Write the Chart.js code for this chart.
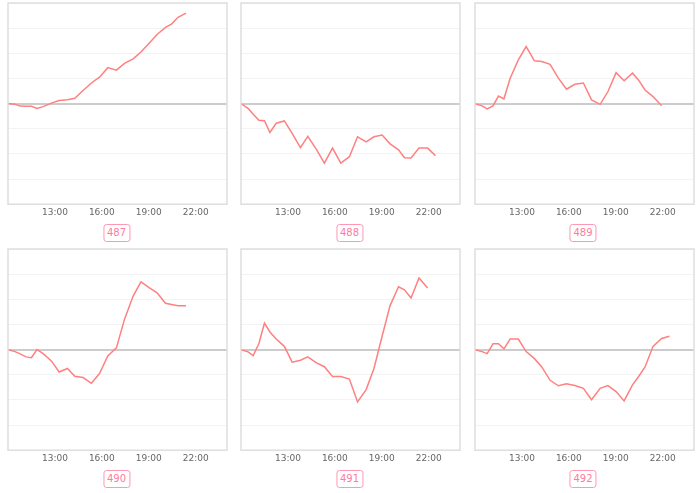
<!DOCTYPE html>
<html>
<head>
<meta charset="utf-8">
<script src="https://cdn.jsdelivr.net/npm/chart.js@4"></script>
<style>
  body { margin: 0; background: #fff; font-family: "DejaVu Sans", Verdana, sans-serif; }
  #grid { width: 700px; display: grid; grid-template-columns: 233px 233px 234px; grid-auto-rows: 246px; }
  .cell { position: relative; }
  .box { position: relative; height: 221px; }
  .tag {
    position: absolute; top: 224px; left: 50%; transform: translateX(-50%);
    border: 1px solid #ff99b3; border-radius: 3px; color: #ff7aa0;
    font-size: 10px; line-height: 16px; padding: 0 3px;
  }
</style>
</head>
<body>
<div id="grid"></div>
<script>
// sample times in hours (shared by all panels)
var times = [10.0, 10.45, 10.78, 11.15, 11.5, 11.85, 12.25, 12.77, 13.27, 13.8, 14.27, 14.8, 15.33, 15.85,
  16.38, 16.93, 17.45, 18.0, 18.5, 19.02, 19.53, 20.07, 20.45, 20.87, 21.38, 21.93, 22.43];
var tickHours = [13, 16, 19, 22];
var ids = ["487", "488", "489", "490", "491", "492"];

var s487 = [0, -0.03, -0.1, -0.11, -0.11, -0.19, -0.12, 0.02, 0.12, 0.15, 0.21, 0.52, 0.82, 1.05,
  1.43, 1.33, 1.6, 1.78, 2.05, 2.4, 2.75, 3.03, 3.16, 3.43, 3.6];
var s488 = [0, -0.19, -0.42, -0.66, -0.68, -1.15, -0.78, -0.69, -1.18, -1.75, -1.3, -1.8, -2.37, -1.77,
  -2.37, -2.11, -1.32, -1.52, -1.32, -1.25, -1.6, -1.84, -2.15, -2.16, -1.77, -1.77, -2.07];
var s489 = [0, -0.09, -0.21, -0.09, 0.3, 0.19, 1.01, 1.74, 2.27, 1.7, 1.67, 1.56, 1.01, 0.57,
  0.77, 0.82, 0.15, -0.03, 0.48, 1.23, 0.91, 1.21, 0.94, 0.54, 0.28, -0.09];
var s490 = [0, -0.08, -0.17, -0.29, -0.32, 0, -0.16, -0.45, -0.89, -0.75, -1.06, -1.11, -1.34, -0.95,
  -0.25, 0.07, 1.21, 2.13, 2.69, 2.46, 2.26, 1.84, 1.79, 1.74, 1.74];
var s491 = [0, -0.09, -0.24, 0.25, 1.05, 0.7, 0.42, 0.13, -0.5, -0.42, -0.29, -0.52, -0.68, -1.07,
  -1.07, -1.17, -2.08, -1.59, -0.75, 0.53, 1.75, 2.5, 2.38, 2.05, 2.85, 2.45];
var s492 = [0, -0.08, -0.16, 0.23, 0.23, 0.03, 0.42, 0.42, -0.08, -0.36, -0.69, -1.22, -1.44, -1.36,
  -1.43, -1.54, -1.99, -1.54, -1.43, -1.67, -2.04, -1.4, -1.08, -0.69, 0.13, 0.44, 0.53];
var allSeries = [s487, s488, s489, s490, s491, s492];

// frame around the plot area
var frame = {
  id: "frame",
  afterDraw: function (chart) {
    var a = chart.chartArea, c = chart.ctx;
    c.save();
    c.strokeStyle = "#dedede";
    c.lineWidth = 1.5;
    c.strokeRect(a.left, a.top, a.right - a.left, a.bottom - a.top);
    c.restore();
  }
};

var grid = document.getElementById("grid");
ids.forEach(function (id, k) {
  var cell = document.createElement("div");
  cell.className = "cell";
  cell.innerHTML = '<div class="box"><canvas></canvas></div><div class="tag">' + id + '</div>';
  grid.appendChild(cell);
  var vals = allSeries[k];
  var pts = vals.map(function (v, i) { return { x: times[i], y: v }; });
  var padL = k % 3 === 2 ? 9 : 8;

  new Chart(cell.querySelector("canvas"), {
    type: "line",
    data: {
      datasets: [{
        data: pts,
        borderColor: "#ff8080",
        borderWidth: 1.5,
        pointRadius: 0,
        tension: 0,
        fill: false
      }]
    },
    options: {
      responsive: true,
      maintainAspectRatio: false,
      animation: false,
      layout: { padding: { top: 3, left: padL, right: 6, bottom: 0 } },
      plugins: { legend: { display: false }, tooltip: { enabled: false } },
      scales: {
        x: {
          type: "linear",
          min: 10,
          max: 24,
          afterBuildTicks: function (axis) {
            axis.ticks = tickHours.map(function (h) { return { value: h }; });
          },
          grid: { display: false, drawTicks: false },
          border: { display: false },
          ticks: {
            color: "#666",
            font: { family: "DejaVu Sans", size: 9 },
            padding: 3,
            maxRotation: 0,
            callback: function (v) { return v + ":00"; }
          }
        },
        y: {
          min: -4,
          max: 4,
          ticks: { display: false, stepSize: 1 },
          border: { display: false },
          grid: {
            drawTicks: false,
            color: function (c) { return c.tick && c.tick.value === 0 ? "#cccccc" : "#f3f3f3"; },
            lineWidth: function (c) { return c.tick && c.tick.value === 0 ? 2 : 1; }
          }
        }
      }
    },
    plugins: [frame]
  });
});
</script>
</body>
</html>
